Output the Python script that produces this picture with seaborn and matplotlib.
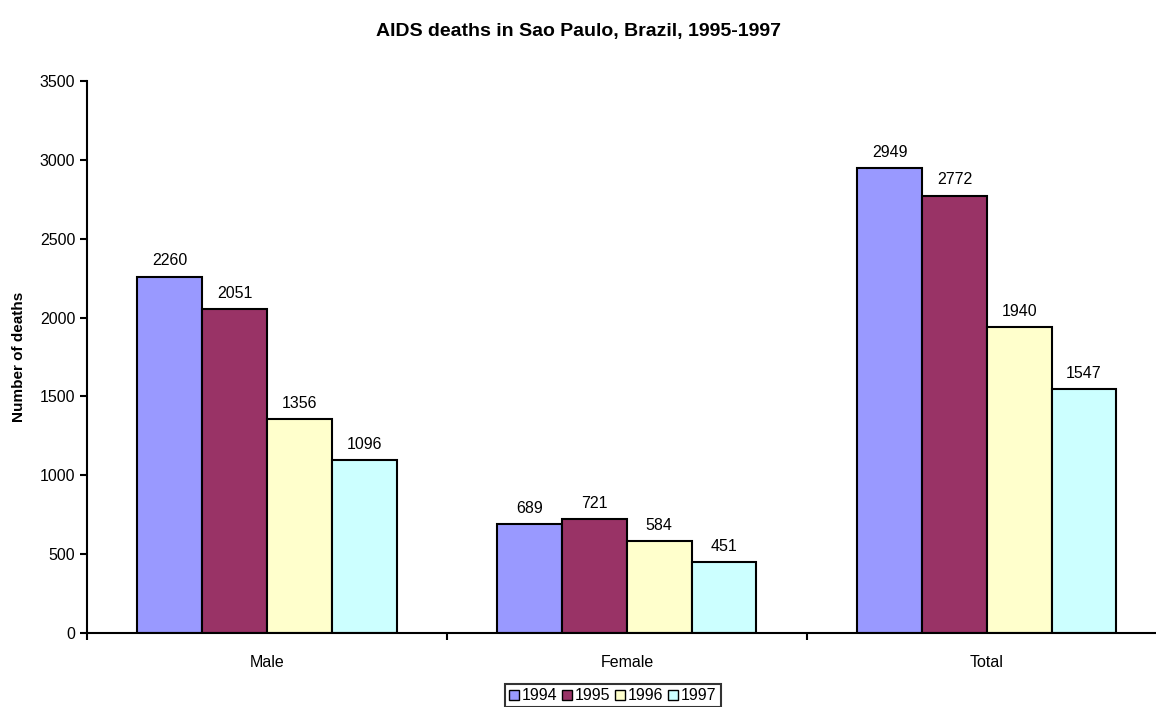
import pandas as pd
import numpy as np
import matplotlib.pyplot as plt
import seaborn as sns

groups = ["Male", "Female", "Total"]
years = ["1994", "1995", "1996", "1997"]
deaths_1994 = [2260, 689, 2949]
deaths_1995 = [2051, 721, 2772]
deaths_1996 = [1356, 584, 1940]
deaths_1997 = [1096, 451, 1547]
colors = ["#9999FF", "#993366", "#FFFFCC", "#CCFFFF"]

rows = []
for yr, vals in zip(years, [deaths_1994, deaths_1995, deaths_1996, deaths_1997]):
    for g, v in zip(groups, vals):
        rows.append({"group": g, "year": yr, "deaths": v})
df = pd.DataFrame(rows)

sns.set_style("white")
plt.rcParams["font.family"] = ["Liberation Sans", "DejaVu Sans"]
plt.rcParams["text.color"] = "black"
plt.rcParams["axes.labelcolor"] = "black"
plt.rcParams["xtick.color"] = "black"
plt.rcParams["ytick.color"] = "black"

fig = plt.figure(figsize=(11.56, 7.07), dpi=100)
ax = fig.add_axes([0.0753, 0.1047, 0.934, 0.7808])

sns.barplot(data=df, x="group", y="deaths", hue="year", palette=colors,
            width=0.72, saturation=1, edgecolor="black", linewidth=1.5,
            ax=ax)

for c in ax.containers:
    ax.bar_label(c, fmt="%d", padding=6, fontsize=11.5)

ax.set_xlim(-0.5, 2.5)
ax.set_ylim(0, 3500)
ax.set_yticks(np.arange(0, 3501, 500))
ax.set_xticks([0, 1, 2])
ax.set_xticks([-0.5, 0.5, 1.5, 2.5], minor=True)
ax.tick_params(axis="x", which="major", length=0, pad=16, labelsize=11.5)
ax.tick_params(axis="x", which="minor", length=5, width=1.5, direction="out", bottom=True)
ax.tick_params(axis="y", length=5, width=1.5, direction="out", left=True, labelsize=11.5)

for s in ["top", "right"]:
    ax.spines[s].set_visible(False)
for s in ["left", "bottom"]:
    ax.spines[s].set_linewidth(1.5)
    ax.spines[s].set_color("black")

ax.set_xlabel("")
ax.set_ylabel("Number of deaths", fontsize=11, fontweight="bold", labelpad=10)
fig.suptitle("AIDS deaths in Sao Paulo, Brazil, 1995-1997", fontsize=14,
             fontweight="bold", y=0.967)

leg = ax.legend(loc="center", bbox_to_anchor=(0.487, -0.114),
                ncol=4, frameon=True, fontsize=11.5, handlelength=0.6,
                handleheight=0.6, handletextpad=0.2, columnspacing=0.3,
                borderpad=0.25, borderaxespad=0, fancybox=False, edgecolor="black")
leg.get_frame().set_linewidth(1.5)
for h in leg.legend_handles:
    h.set_edgecolor("black")
    h.set_linewidth(1)

fig.savefig("out.png", dpi=100)
